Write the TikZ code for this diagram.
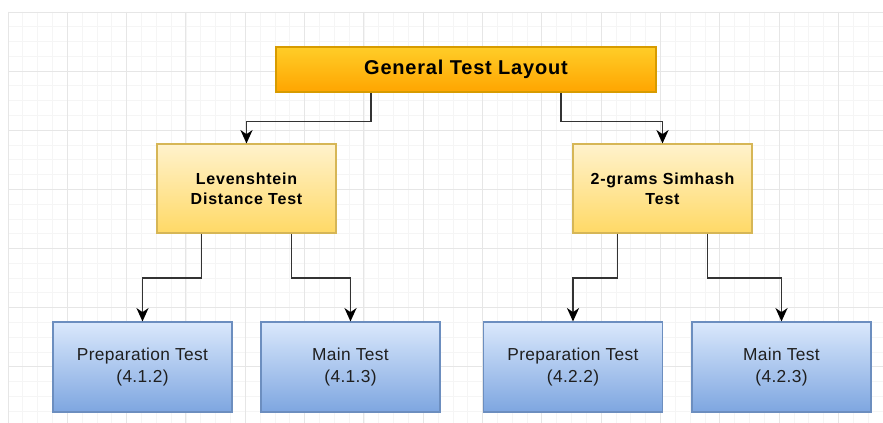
\documentclass[tikz,border=0pt]{standalone}
\usepackage{fontspec}
\setmainfont{Liberation Sans}
\usetikzlibrary{arrows.meta,calc}
\definecolor{gridminor}{HTML}{F5F5F5}
\definecolor{gridmajor}{HTML}{E6E6E6}
\definecolor{orgtop}{HTML}{FFCD28}
\definecolor{orgbot}{HTML}{FFA500}
\definecolor{orgline}{HTML}{D79B00}
\definecolor{ylwtop}{HTML}{FFF2CC}
\definecolor{ylwbot}{HTML}{FFD966}
\definecolor{ylwline}{HTML}{D6B656}
\definecolor{blutop}{HTML}{DAE8FC}
\definecolor{blubot}{HTML}{7EA6E0}
\definecolor{bluline}{HTML}{6C8EBF}
\definecolor{connline}{HTML}{333333}
\tikzset{
  titlebox/.style={draw=orgline, line width=0.8pt, top color=orgtop, bottom color=orgbot,
    minimum width=285pt, minimum height=33.75pt, inner sep=0pt,
    font=\fontsize{15pt}{18pt}\selectfont\bfseries\addfontfeature{LetterSpace=4}},
  midbox/.style={draw=ylwline, line width=0.8pt, top color=ylwtop, bottom color=ylwbot,
    minimum width=134.25pt, minimum height=66.75pt, inner sep=0pt, align=center,
    font=\fontsize{12pt}{15pt}\selectfont\bfseries\addfontfeature{LetterSpace=5}},
  leafbox/.style={draw=bluline, line width=0.8pt, top color=blutop, bottom color=blubot,
    minimum width=134.25pt, minimum height=67.5pt, inner sep=0pt, align=center,
    font=\fontsize{13pt}{16.3pt}\selectfont\addfontfeature{LetterSpace=2}, text=black!88},
  conn/.style={draw=connline, line width=1.4pt, -{Stealth[length=10pt,width=9pt,inset=3pt,color=black]}},
  minorline/.style={draw=gridminor, line width=0.6pt},
  majorline/.style={draw=gridmajor, line width=0.7pt}
}
\begin{document}
\begin{tikzpicture}[x=0.75pt,y=-0.75pt]
\useasboundingbox (0,0) rectangle (883,423);
\fill[white] (0,0) rectangle (883,423);
% grid
\foreach \i in {0,...,59} {\draw[minorline] ({8+\i*14.83},12) -- ({8+\i*14.83},423);}
\foreach \j in {0,...,27} {\draw[minorline] (8,{12+\j*14.78}) -- (883,{12+\j*14.78});}
\foreach \i in {0,...,14} {\draw[majorline] ({8+\i*59.32},12) -- ({8+\i*59.32},423);}
\foreach \j in {0,...,6} {\draw[majorline] (8,{12+\j*59.12}) -- (883,{12+\j*59.12});}
% nodes
\node[titlebox] (top) at (466,69.5) {General Test Layout};
\node[midbox] (lev) at (246.5,188.5) {Levenshtein\\Distance Test};
\node[midbox] (sim) at (662.5,188.5) {2-grams Simhash\\Test};
\node[leafbox] (b1) at (142.5,367) {Preparation Test\\(4.1.2)};
\node[leafbox] (b2) at (350.5,367) {Main Test\\(4.1.3)};
\node[leafbox] (b3) at (573,367) {Preparation Test\\(4.2.2)};
\node[leafbox] (b4) at (781.5,367) {Main Test\\(4.2.3)};
% connectors
\draw[conn] ($(top.south west)!0.25!(top.south east)$) -- ++(0,29) -| (lev.north);
\draw[conn] ($(top.south west)!0.75!(top.south east)$) -- ++(0,29) -| (sim.north);
\draw[conn] ($(lev.south west)!0.25!(lev.south east)$) -- ++(0,44.7) -| (b1.north);
\draw[conn] ($(lev.south west)!0.75!(lev.south east)$) -- ++(0,44.7) -| (b2.north);
\draw[conn] ($(sim.south west)!0.25!(sim.south east)$) -- ++(0,44.7) -| (b3.north);
\draw[conn] ($(sim.south west)!0.75!(sim.south east)$) -- ++(0,44.7) -| (b4.north);
\end{tikzpicture}
\end{document}
